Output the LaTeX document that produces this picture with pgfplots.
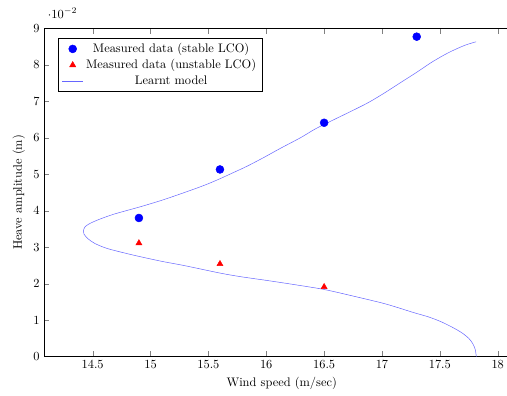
\documentclass[border=0pt]{standalone}
\usepackage{pgfplots}
\pgfplotsset{compat=1.18}
\begin{document}
\begin{tikzpicture}
\begin{axis}[
  scale only axis,
  width=373.4pt, height=264.8pt,
  xmin=14.08, xmax=18.08,
  ymin=0, ymax=0.09,
  axis y line*=left,
  xtick={14.5,15,15.5,16,16.5,17,17.5,18},
  ytick={0,0.01,0.02,0.03,0.04,0.05,0.06,0.07,0.08,0.09},
  xlabel={Wind speed (m/sec)},
  xlabel style={xshift=5pt},
  ylabel={Heave amplitude (m)},
  legend style={at={(0.03,0.97)},anchor=north west, cells={anchor=center}},
  legend cell align=center,
]
\addplot[only marks, mark=*, mark size=3.2pt, color=blue] coordinates {
  (14.9,0.0380) (15.6,0.0513) (16.5,0.0641) (17.3,0.0877)
};
\addlegendentry{Measured data (stable LCO)}
\addplot[only marks, mark=triangle*, mark size=2.8pt, color=red] coordinates {
  (14.9,0.0311) (15.6,0.0254) (16.5,0.0191)
};
\addlegendentry{Measured data (unstable LCO)}
\addplot[smooth, color=blue!60, thin, mark=none] coordinates {
  (17.815,0) (17.805,0.0020) (17.785,0.0035) (17.75,0.0050) (17.70,0.0063)
  (17.65,0.0073) (17.58,0.0085) (17.50,0.0097) (17.40,0.0109) (17.27,0.0121)
  (17.13,0.0135) (17.00,0.0147) (16.75,0.0166) (16.50,0.0184) (16.25,0.0197)
  (16.00,0.0209) (15.78,0.0219) (15.60,0.0229) (15.30,0.0249) (15.10,0.0261)
  (14.91,0.0274) (14.75,0.0286) (14.62,0.0297) (14.52,0.0310) (14.46,0.0323)
  (14.425,0.0336) (14.42,0.0345) (14.43,0.0354) (14.46,0.0362) (14.51,0.0370)
  (14.58,0.0379) (14.679,0.0390) (14.79,0.0400) (14.904,0.0410) (15.00,0.0419)
  (15.112,0.0430) (15.25,0.0445) (15.401,0.0462) (15.50,0.0474) (15.603,0.0488)
  (15.72,0.0505) (15.835,0.0522) (15.98,0.0546) (16.123,0.0571) (16.296,0.0600)
  (16.412,0.0622) (16.504,0.0637) (16.62,0.0655) (16.73,0.0672) (16.88,0.0696)
  (17.018,0.0722) (17.16,0.0751) (17.308,0.0781) (17.42,0.0805) (17.51,0.0822)
  (17.58,0.0834) (17.654,0.0845) (17.73,0.0855) (17.813,0.0863)
};
\addlegendentry{Learnt model}
\end{axis}
\pgfresetboundingbox
\path ([xshift=-35.5pt,yshift=-31.7pt]current axis.south west) rectangle ([yshift=22.8pt]current axis.north east);
\end{tikzpicture}
\end{document}
